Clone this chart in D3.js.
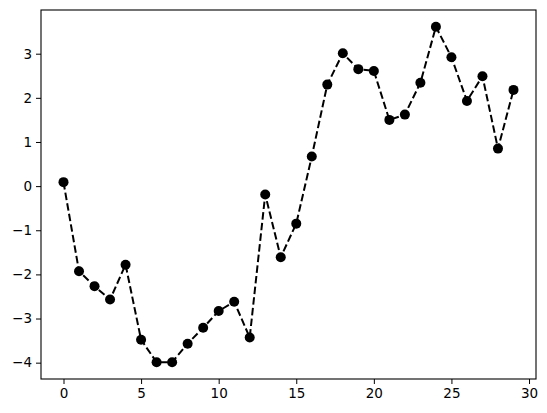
<!DOCTYPE html>
<html>
<head>
<meta charset="utf-8">
<script src="https://cdn.jsdelivr.net/npm/d3@7"></script>
<style>
  body { margin: 0; background: #fff; }
  .tick text { font-family: "DejaVu Sans", sans-serif; font-size: 13.5px; fill: #000; }
</style>
</head>
<body>
<div id="chart"></div>
<script>
var svgWidth = 547;
var svgHeight = 413;

// data
var xValues = d3.range(0, 30);
var yValues = [0.09, -1.93, -2.27, -2.57, -1.78, -3.48, -3.99, -3.99, -3.57, -3.21,
  -2.83, -2.62, -3.43, -0.19, -1.61, -0.85, 0.67, 2.30, 3.01, 2.65,
  2.61, 1.50, 1.62, 2.34, 3.61, 2.92, 1.93, 2.49, 0.85, 2.18];
var xTicks = [0, 5, 10, 15, 20, 25, 30];
var yTicks = [-4, -3, -2, -1, 0, 1, 2, 3];

var plot = { left: 41, right: 536, top: 10, bottom: 379 };

var points = xValues.map((x, i) => ({ x: x, y: yValues[i] }));

var svg = d3.select("#chart")
  .append("svg")
  .attr("width", svgWidth)
  .attr("height", svgHeight);

// 5% padding like matplotlib's default margins
function padded(values) {
  var lo = d3.min(values), hi = d3.max(values);
  var pad = (hi - lo) * 0.05;
  return [lo - pad, hi + pad];
}

var xScale = d3.scaleLinear()
  .domain(padded(xValues))
  .range([plot.left, plot.right]);

var yScale = d3.scaleLinear()
  .domain(padded(yValues))
  .range([plot.bottom, plot.top]);

// axes
var xAxis = svg.append("g")
  .attr("transform", `translate(0, ${plot.bottom})`)
  .call(d3.axisBottom(xScale).tickValues(xTicks).tickSize(5).tickPadding(4).tickSizeOuter(0));

var yAxis = svg.append("g")
  .attr("transform", `translate(${plot.left}, 0)`)
  .call(d3.axisLeft(yScale).tickValues(yTicks).tickSize(5).tickPadding(4).tickSizeOuter(0));

xAxis.select(".domain").remove();
yAxis.select(".domain").remove();
svg.selectAll(".tick line").attr("stroke", "#000").attr("stroke-width", 1);

// frame
svg.append("rect")
  .attr("x", plot.left)
  .attr("y", plot.top)
  .attr("width", plot.right - plot.left)
  .attr("height", plot.bottom - plot.top)
  .attr("fill", "none")
  .attr("stroke", "#000")
  .attr("stroke-width", 1.1);

// dashed line
var line = d3.line()
  .x(d => xScale(d.x))
  .y(d => yScale(d.y));

svg.append("path")
  .datum(points)
  .attr("d", line)
  .attr("fill", "none")
  .attr("stroke", "#000")
  .attr("stroke-width", 2)
  .attr("stroke-dasharray", "7.5,3.2");

// markers
svg.append("g")
  .selectAll("circle")
  .data(points)
  .enter()
  .append("circle")
  .attr("cx", d => xScale(d.x))
  .attr("cy", d => yScale(d.y))
  .attr("r", 5)
  .attr("fill", "#000");
</script>
</body>
</html>
